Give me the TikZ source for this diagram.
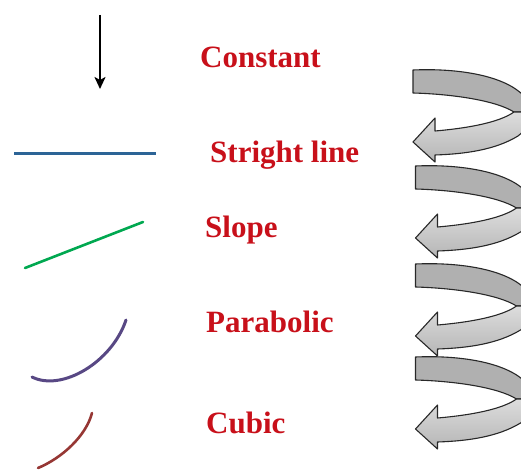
\documentclass[tikz,border=0pt]{standalone}
\usepackage{fontspec}
\setmainfont{Liberation Serif}
\usetikzlibrary{arrows.meta}
\definecolor{lblred}{RGB}{200,16,26}
\definecolor{linblue}{RGB}{44,100,150}
\definecolor{lingreen}{RGB}{0,168,80}
\definecolor{linpurple}{RGB}{88,72,132}
\definecolor{linbrown}{RGB}{150,55,52}
\definecolor{bandup}{RGB}{176,176,176}
\definecolor{banddown}{RGB}{206,206,206}
\definecolor{bandedge}{RGB}{40,40,40}
\tikzset{
  lbl/.style={anchor=base west, inner sep=0pt, text=lblred,
    font=\fontsize{31}{36}\selectfont\bfseries},
  curveline/.style={line width=3pt, line cap=round},
  bandline/.style={draw=bandedge, line width=1.1pt, line join=round},
}
\begin{document}
\begin{tikzpicture}[x=1pt,y=-1pt]
\useasboundingbox (0,0) rectangle (521,470);
\clip (0,0) rectangle (521,470);

% labels
\node[lbl] (lconst) at (200,68)  {Constant};
\node[lbl] (lline)  at (210,163) {Stright line};
\node[lbl] (lslope) at (205,237) {Slope};
\node[lbl] (lpara)  at (206,332) {Parabolic};
\node[lbl] (lcubic) at (206,433) {Cubic};

% sample shapes on the left
\coordinate (atop) at (100,15);
\coordinate (abot) at (100,89);
\draw[line width=2.4pt, -{Stealth[length=12pt,width=11pt,inset=3pt]}] (atop) -- (abot);

\coordinate (bl) at (14,154);
\coordinate (br) at (156,154);
\draw[linblue, curveline, line cap=butt] (bl) -- (br);

\coordinate (gl) at (25,268);
\coordinate (gr) at (143,222);
\draw[lingreen, curveline, line width=2.6pt] (gl) -- (gr);

\coordinate (pl) at (32,377);
\coordinate (pr) at (126,320);
\draw[linpurple, curveline] (pl) .. controls (62,392) and (112,362) .. (pr);

\coordinate (cl) at (38,468);
\coordinate (cr) at (92,413);
\draw[linbrown, curveline, line width=2.6pt] (cl) .. controls (62,458) and (86,436) .. (cr);

% coiled arrows on the right
\foreach \dx/\dy in {0/0, 2.5/96, 2.5/194, 2.5/287}{
  \begin{scope}[shift={(\dx,\dy)}]
    % upper (back) band
    \filldraw[bandline, fill=bandup]
      (413,70) .. controls (460,68) and (505,76) .. (524,96)
      .. controls (530,103) and (531,108) .. (530,112)
      -- (514,112) .. controls (495,100) and (450,94) .. (413,93) -- cycle;
    % lower (front) band with the arrow head
    \draw[bandline, top color=banddown!70!white, bottom color=banddown!88!black]
      (530,112) .. controls (530,122) and (526,130) .. (518,136)
      .. controls (495,150) and (465,154) .. (435,155)
      -- (435,162) -- (413,142) -- (435,118) -- (435,131)
      .. controls (470,128) and (500,122) .. (514,112) -- cycle;
  \end{scope}
}
\end{tikzpicture}
\end{document}
